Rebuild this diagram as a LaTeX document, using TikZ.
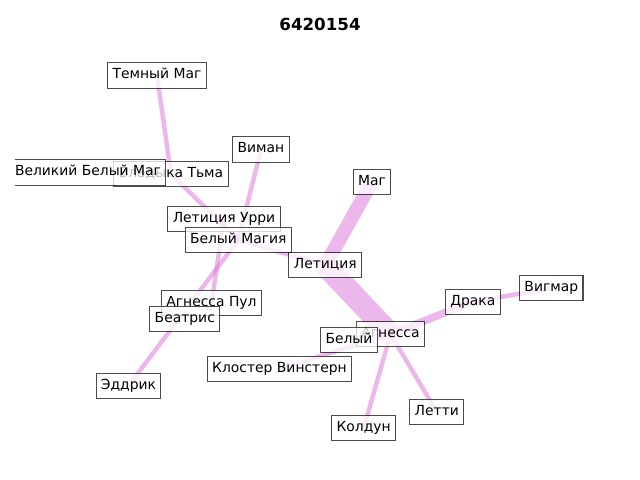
\documentclass[tikz,border=0pt]{standalone}
\usepackage{fontspec}
\setmainfont{DejaVu Sans}
\usetikzlibrary{backgrounds}
\definecolor{edgeviolet}{RGB}{218,112,214}

\begin{document}
\begin{tikzpicture}[x=0.72pt,y=-0.72pt,
    lbl/.style={rectangle,draw=black,fill=white,line width=0.75pt,draw opacity=0.7,fill opacity=0.75,
      text opacity=1,inner xsep=3.5pt,inner ysep=4.2pt,text height=7.3pt,text depth=2.4pt,
      font=\fontsize{10}{12}\selectfont},
    lnk/.style={draw=edgeviolet,draw opacity=0.5,line width=3.2pt}]
  \useasboundingbox (0,0) rectangle (640,480);
  % Title
  \node[font=\fontsize{12}{14}\selectfont\bfseries] (title) at (320,24) {6420154};
  % Labels
  \node[lbl] (tmag) at (157,75.5) {Темный Маг};
  \node[lbl] (vladyka) at (171,174) {Владыка Тьма};
  \begin{scope}
    \clip (15,0) rectangle (640,480);
    \node[lbl] (velikiy) at (88,172.5) {Великий Белый Маг};
  \end{scope}
  \node[lbl] (viman) at (261,149.5) {Виман};
  \node[lbl] (leturri) at (224,218.7) {Летиция Урри};
  \node[lbl] (belmag) at (238.3,239.8) {Белый Магия};
  \node[lbl] (mag) at (372,181.7) {Маг};
  \node[lbl] (leticiya) at (325.3,265.3) {Летиция};
  \node[lbl] (agpul) at (211.5,303) {Агнесса Пул};
  \node[lbl] (beatris) at (184.8,318.7) {Беатрис};
  \node[lbl] (eddrik) at (128.5,385.8) {Эддрик};
  \node[lbl] (agnessa) at (390.5,334.2) {Агнесса};
  \node[lbl] (belyy) at (349,339.8) {Белый};
  \node[lbl] (kloster) at (279.5,368.8) {Клостер Винстерн};
  \node[lbl] (draka) at (472.8,301.8) {Драка};
  \node[lbl] (vigmar) at (551.3,288.3) {Вигмар};
  \node[lbl] (koldun) at (363.7,428.3) {Колдун};
  \node[lbl] (letti) at (436.8,411.7) {Летти};
  % Edges
  \begin{scope}[on background layer]
    \draw[lnk] (tmag.center) -- (vladyka.center);
    \draw[lnk] (vladyka.center) -- (belmag.center);
    \draw[lnk] (viman.center) -- (belmag.center);
    \draw[lnk] (belmag.center) -- (leticiya.center);
    \draw[lnk] (belmag.center) -- (eddrik.center);
    \draw[lnk] (leturri.center) -- (agpul.center);
    \draw[lnk,line width=10pt] (mag.center) -- (leticiya.center);
    \draw[lnk,line width=16pt] (leticiya.center) -- (agnessa.center);
    \draw[lnk,line width=5.5pt] (agnessa.center) -- (draka.center);
    \draw[lnk] (draka.center) -- (vigmar.center);
    \draw[lnk] (agnessa.center) -- (kloster.center);
    \draw[lnk] (agnessa.center) -- (koldun.center);
    \draw[lnk] (agnessa.center) -- (letti.center);
  \end{scope}
\end{tikzpicture}
\end{document}
